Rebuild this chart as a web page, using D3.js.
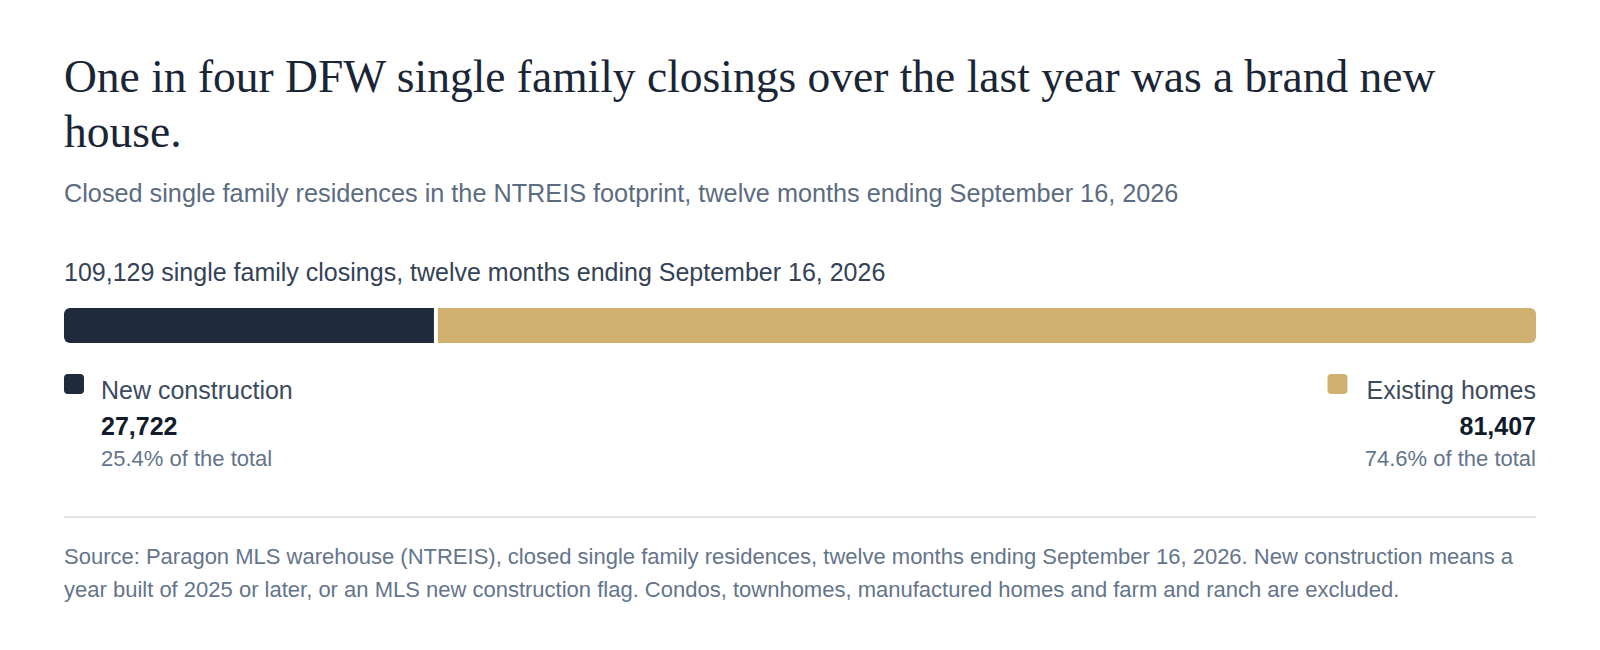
<!DOCTYPE html>
<html><head><meta charset="utf-8">
<script src="https://cdn.jsdelivr.net/npm/d3@7"></script>
<style>
html,body{margin:0;padding:0;background:#fff;}
svg{display:block;}
</style></head><body>
<svg id="chart" width="1600" height="650"></svg>
<script>
const titleText = "One in four DFW single family closings over the last year was a brand new house.";
const subtitleText = "Closed single family residences in the NTREIS footprint, twelve months ending September 16, 2026";
const periodText = "single family closings, twelve months ending September 16, 2026";
const categories = ["New construction", "Existing homes"];
const values = [27722, 81407];
const colors = ["#1f2b3c", "#cfb06e"];
const sourceText = "Source: Paragon MLS warehouse (NTREIS), closed single family residences, twelve months ending September 16, 2026. New construction means a year built of 2025 or later, or an MLS new construction flag. Condos, townhomes, manufactured homes and farm and ranch are excluded.";

const L = 64, R = 1536;
const svg = d3.select("#chart");
const total = d3.sum(values);
const fmt = d3.format(",");
const pct = d3.format(".1%");
const sans = "'Liberation Sans', Arial, sans-serif";

function wrap(sel, str, maxW, y0, lh) {
  const words = str.split(/\s+/);
  let line = [];
  let lineNo = 0;
  let tspan = sel.append("tspan").attr("x", L).attr("y", y0);
  words.forEach(w => {
    line.push(w);
    tspan.text(line.join(" "));
    if (tspan.node().getComputedTextLength() > maxW && line.length > 1) {
      line.pop();
      tspan.text(line.join(" "));
      line = [w];
      lineNo++;
      tspan = sel.append("tspan").attr("x", L).attr("y", y0 + lineNo * lh).text(w);
    }
  });
}

// Title
const title = svg.append("text")
  .attr("font-family", "'Liberation Serif', Georgia, serif")
  .attr("font-size", 45.5)
  .attr("fill", "#1a2535");
wrap(title, titleText, R - L, 92, 55);

// Subtitle
svg.append("text").attr("x", L).attr("y", 202)
  .attr("font-family", sans).attr("font-size", 25.25).attr("fill", "#5b6b80")
  .text(subtitleText);

// Period/total line
svg.append("text").attr("x", L).attr("y", 281)
  .attr("font-family", sans).attr("font-size", 25).attr("fill", "#344256")
  .text(fmt(total) + " " + periodText);

// Bar
const x = d3.scaleLinear().domain([0, total]).range([L, R]);
const barY = 308, barH = 35, rad = 6, gap = 4;
let cum = 0;
const segs = values.map((v, i) => {
  const s = { i, v, x0: x(cum), x1: x(cum + v) };
  cum += v;
  return s;
});
function segPath(x0, x1, y, h, rl, rr) {
  return `M${x0 + rl},${y}H${x1 - rr}` +
    (rr ? `A${rr},${rr} 0 0 1 ${x1},${y + rr}` : "") +
    `V${y + h - rr}` +
    (rr ? `A${rr},${rr} 0 0 1 ${x1 - rr},${y + h}` : "") +
    `H${x0 + rl}` +
    (rl ? `A${rl},${rl} 0 0 1 ${x0},${y + h - rl}` : "") +
    `V${y + rl}` +
    (rl ? `A${rl},${rl} 0 0 1 ${x0 + rl},${y}` : "") + "Z";
}
svg.selectAll("path.seg").data(segs).join("path")
  .attr("class", "seg")
  .attr("fill", d => colors[d.i])
  .attr("d", d => {
    const last = d.i === segs.length - 1;
    const x1 = last ? d.x1 : d.x1 - gap;
    return segPath(d.x0, x1, barY, barH, d.i === 0 ? rad : 0, last ? rad : 0);
  });

// Legend
segs.forEach(d => {
  const right = d.i === segs.length - 1;
  const anchor = right ? "end" : "start";
  const tx = right ? R : L + 37;
  const g = svg.append("g");
  const lab = g.append("text").attr("x", tx).attr("y", 399).attr("text-anchor", anchor)
    .attr("font-family", sans).attr("font-size", 25).attr("fill", "#3d4b5f")
    .text(categories[d.i]);
  g.append("text").attr("x", tx).attr("y", 435).attr("text-anchor", anchor)
    .attr("font-family", sans).attr("font-size", 25).attr("font-weight", "bold").attr("fill", "#111c2b")
    .text(fmt(d.v));
  g.append("text").attr("x", tx).attr("y", 466).attr("text-anchor", anchor)
    .attr("font-family", sans).attr("font-size", 22).attr("fill", "#64748b")
    .text(pct(d.v / total) + " of the total");
  const lw = lab.node().getComputedTextLength();
  const start = right ? R - lw : tx;
  g.append("rect").attr("x", start - (right ? 39 : 37)).attr("y", 374).attr("width", 20).attr("height", 20)
    .attr("rx", 4).attr("fill", colors[d.i]);
});

// Divider
svg.append("line").attr("x1", L).attr("x2", R).attr("y1", 517).attr("y2", 517)
  .attr("stroke", "#e2e6eb").attr("stroke-width", 2);

// Source
const src = svg.append("text")
  .attr("font-family", sans).attr("font-size", 22).attr("fill", "#64748b");
wrap(src, sourceText, R - L, 564, 33);
</script>
</body></html>
